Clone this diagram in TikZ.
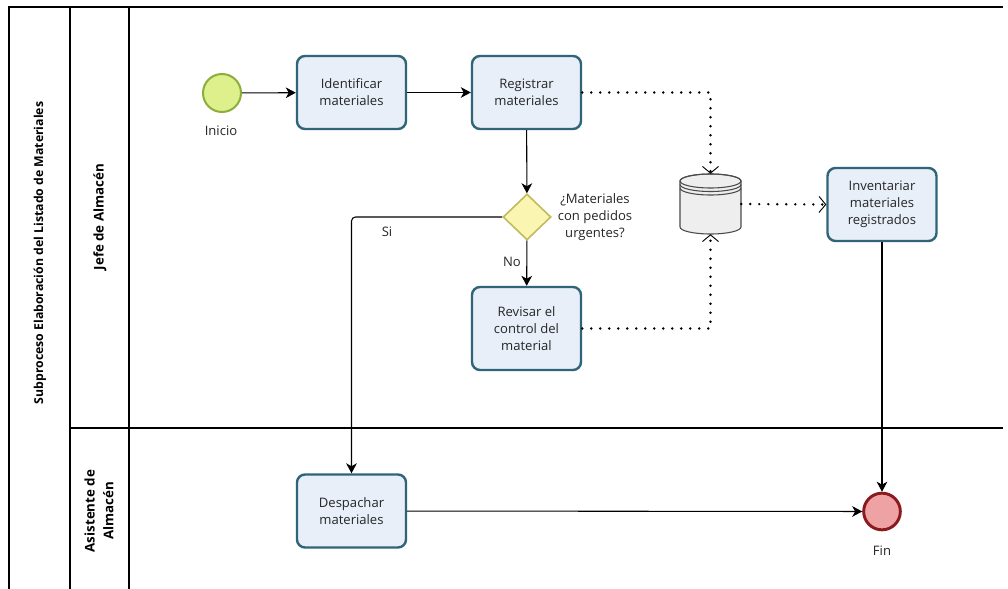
\documentclass[tikz,border=0pt]{standalone}
\usepackage{fontspec}
\setmainfont{Open Sans}
\usetikzlibrary{arrows.meta,shapes.geometric}
\definecolor{taskfill}{HTML}{E8EFF9}
\definecolor{taskline}{HTML}{2F6479}
\definecolor{startfill}{HTML}{DDF08C}
\definecolor{startline}{HTML}{8DAE3C}
\definecolor{endfill}{HTML}{EFA2A4}
\definecolor{endline}{HTML}{8A1A1E}
\definecolor{gwfill}{HTML}{FAF6B2}
\definecolor{gwline}{HTML}{C2BA5E}
\definecolor{dsfill}{HTML}{EEEEEE}
\definecolor{dsline}{HTML}{4A4A4A}
\definecolor{txt}{HTML}{262626}
\tikzset{
  task/.style={draw=taskline, fill=taskfill, line width=1.8pt, rounded corners=6pt,
    minimum width=81.75pt, minimum height=54.75pt, inner sep=0pt, align=center,
    text=txt, font=\fontsize{9.8}{12.75}\selectfont},
  startev/.style={circle, draw=startline, fill=startfill, line width=1.5pt,
    minimum size=28.5pt, inner sep=0pt},
  endev/.style={circle, draw=endline, fill=endfill, line width=2.2pt,
    minimum size=27.5pt, inner sep=0pt},
  gateway/.style={diamond, draw=gwline, fill=gwfill, line width=1.2pt,
    minimum width=36pt, minimum height=34.5pt, inner sep=0pt},
  lbl/.style={text=txt, font=\fontsize{9.8}{12.75}\selectfont, align=center, inner sep=0pt},
  lanetxt/.style={text=black, font=\bfseries\fontsize{10}{14}\selectfont, align=center,
    rotate=90, inner sep=0pt},
  frame/.style={line width=1pt, black},
  flow/.style={line width=0.8pt, black, -{Stealth[length=7.5pt,width=8pt,inset=2.2pt]}},
  assoc/.style={line width=2pt, black, line cap=round, dash pattern=on 0pt off 6.75pt,
    -{Straight Barb[length=5pt,width=12pt,line width=0.7pt]}},
}
\begin{document}
\begin{tikzpicture}[x=0.75pt,y=-0.75pt]
  \useasboundingbox (0,0) rectangle (1008,589);
  \fill[white] (0,0) rectangle (1008,589);

  % pool and lanes
  \draw[frame] (9,589) -- (9,7) -- (1003,7);
  \draw[frame] (70,7) -- (70,589);
  \draw[frame] (129,7) -- (129,589);
  \draw[frame] (70,428) -- (1003,428);
  \node[lanetxt, font=\bfseries\fontsize{9.2}{14}\selectfont] (pool) at (40,253)
    {Subproceso Elaboración del Listado de Materiales};
  \node[lanetxt] (laneA) at (100,217) {Jefe de Almacén};
  \node[lanetxt] (laneB) at (99,511) {Asistente de\\Almacén};

  % events, tasks and gateway
  \node[startev] (start) at (222,93) {};
  \node[lbl] (startlbl) at (221,131) {Inicio};
  \node[task] (idf) at (351.5,92.5) {Identificar\\materiales};
  \node[task] (reg) at (526.5,92.5) {Registrar\\materiales};
  \node[gateway] (gw) at (527,217) {};
  \node[lbl] (gwlbl) at (595,217) {¿Materiales\\con pedidos\\urgentes?};
  \node[lbl] (si) at (387,232) {Si};
  \node[lbl] (no) at (512,262) {No};
  \node[task, minimum height=62.25pt] (rev) at (526.5,328.5) {Revisar el\\control del\\material};
  \node[task] (inv) at (882,204.5) {Inventariar\\materiales\\registrados};
  \node[task] (desp) at (351.5,511) {Despachar\\materiales};
  \node[endev] (fin) at (882,511.5) {};
  \node[lbl] (finlbl) at (882,551) {Fin};

  % data store: cylinder with two rims under the lid
  \node[minimum width=45.75pt, minimum height=45pt, inner sep=0pt] (ds) at (710.5,204) {};
  \begin{scope}[line width=0.8pt]
    \path[fill=dsfill, draw=dsline] (680,181) -- (680,227)
      arc[start angle=180, end angle=0, x radius=30.5, y radius=7]
      -- (741,181) arc[start angle=0, end angle=-180, x radius=30.5, y radius=7] -- cycle;
    \draw[dsline] (710.5,181) ellipse[x radius=30.5, y radius=7];
    \draw[dsline] (680,184.5) arc[start angle=180, end angle=0, x radius=30.5, y radius=7];
    \draw[dsline] (680,188) arc[start angle=180, end angle=0, x radius=30.5, y radius=7];
  \end{scope}

  % sequence flows
  \draw[flow] (start) -- (idf);
  \draw[flow] (idf) -- (reg);
  \draw[flow] (reg) -- (gw);
  \draw[flow] (gw) -- (rev);
  \draw[flow, rounded corners=3pt] (gw.west) -| (desp.north);
  \draw[flow] (desp) -- (fin);
  \draw[flow] (inv) -- (fin);

  % data associations
  \draw[assoc] (reg.east) -| (ds.north);
  \draw[assoc] (rev.east) -| (ds.south);
  \draw[assoc] (ds.east) -- (inv.west);
\end{tikzpicture}
\end{document}
